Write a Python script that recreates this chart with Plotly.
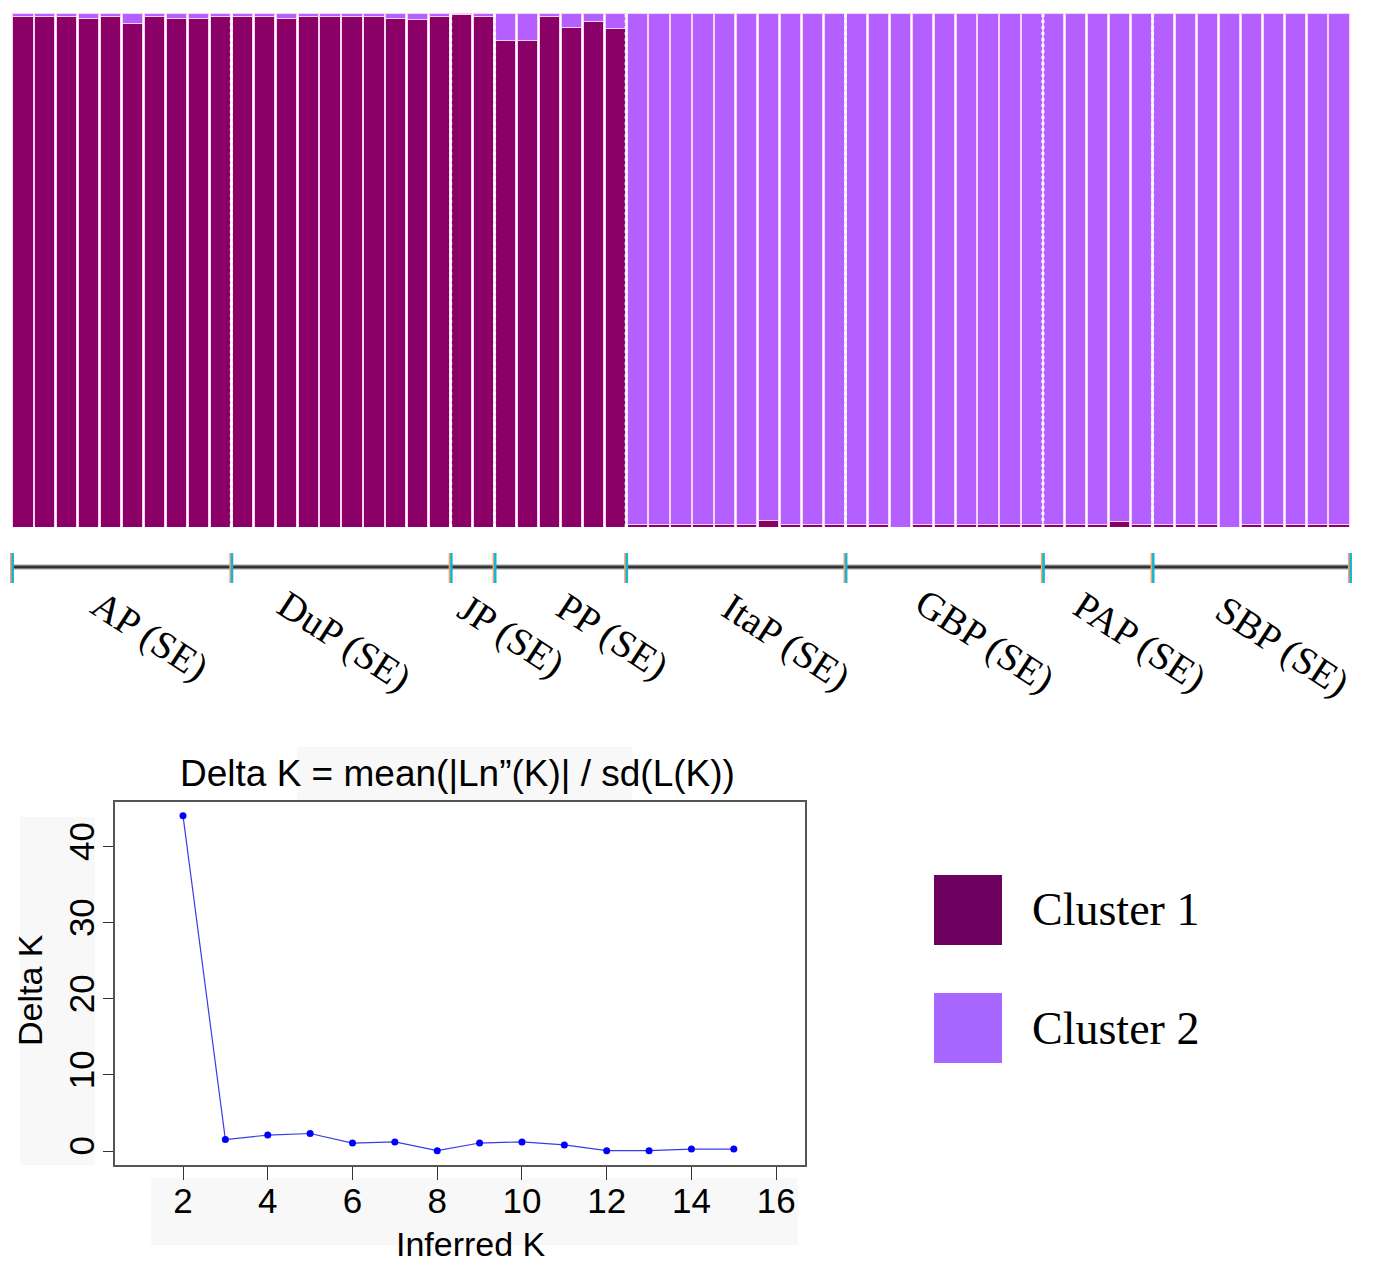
import plotly.graph_objects as go

# ---------------- data ----------------
pop_names = ["AP (SE)", "DuP (SE)", "JP (SE)", "PP (SE)", "ItaP (SE)", "GBP (SE)", "PAP (SE)", "SBP (SE)"]
pop_sizes = [10, 10, 2, 6, 10, 9, 5, 9]

# proportion of membership in Cluster 1 for each individual (Cluster 2 = 1 - Cluster 1)
cluster1_AP = [0.993, 0.993, 0.993, 0.989, 0.993, 0.980, 0.993, 0.989, 0.989, 0.993]
cluster1_DuP = [0.993, 0.993, 0.989, 0.993, 0.993, 0.993, 0.993, 0.989, 0.987, 0.993]
cluster1_JP = [0.997, 0.993]
cluster1_PP = [0.947, 0.947, 0.993, 0.972, 0.983, 0.969]
cluster1_ItaP = [0.005, 0.005, 0.005, 0.005, 0.005, 0.005, 0.012, 0.005, 0.005, 0.005]
cluster1_GBP = [0.005, 0.005, 0.0, 0.005, 0.005, 0.005, 0.005, 0.005, 0.005]
cluster1_PAP = [0.005, 0.005, 0.005, 0.010, 0.005]
cluster1_SBP = [0.005, 0.005, 0.005, 0.0, 0.005, 0.005, 0.005, 0.005, 0.005]

cluster1 = (cluster1_AP + cluster1_DuP + cluster1_JP + cluster1_PP +
            cluster1_ItaP + cluster1_GBP + cluster1_PAP + cluster1_SBP)
cluster2 = [1 - v for v in cluster1]
individuals = list(range(len(cluster1)))

# Evanno Delta K
inferred_k = [2, 3, 4, 5, 6, 7, 8, 9, 10, 11, 12, 13, 14, 15]
delta_k = [44.1, 1.5, 2.1, 2.3, 1.05, 1.2, 0.05, 1.05, 1.2, 0.8, 0.05, 0.05, 0.25, 0.25]

legend_labels = ["Cluster 1", "Cluster 2"]

# ---------------- styling helpers ----------------
W, H = 1373, 1264
def px(x):
    return x / W
def py(y):
    return 1 - y / H

BAR_L, BAR_R = 12, 1350
n_ind = len(cluster1)
def bar_px(b):
    # pixel x of a boundary given in bar-index units
    return BAR_L + (b + 0.5) * (BAR_R - BAR_L) / n_ind

C1 = "#8b0066"
C2 = "#b45fff"
SERIF = "Liberation Serif, Times New Roman, serif"
SANS = "Liberation Sans, Arial, sans-serif"

fig = go.Figure()

fig.add_trace(go.Bar(x=individuals, y=cluster1, marker=dict(color=C1, line=dict(color="#f4d2f0", width=1)),
                     xaxis="x", yaxis="y", showlegend=False, hoverinfo="skip"))
fig.add_trace(go.Bar(x=individuals, y=cluster2, marker=dict(color=C2, line=dict(color="#f4d2f0", width=1)),
                     xaxis="x", yaxis="y", showlegend=False, hoverinfo="skip"))

fig.add_trace(go.Scatter(x=inferred_k, y=delta_k, mode="lines+markers",
                         line=dict(color="#3b3be6", width=1.2),
                         marker=dict(color="#0000ff", size=7),
                         xaxis="x2", yaxis="y2", showlegend=False, hoverinfo="skip"))

shapes = []
annotations = []

# faint grey backgrounds behind the R axis labels
for (x0, y0, x1, y1) in [(20, 817, 95, 1165), (151, 1178, 798, 1245), (297, 747, 632, 800)]:
    shapes.append(dict(type="rect", xref="paper", yref="paper", x0=px(x0), x1=px(x1), y0=py(y1), y1=py(y0),
                       fillcolor="#f8f8f8", line=dict(width=0), layer="below"))

# population boundaries
bounds = [-0.5]
for s in pop_sizes:
    bounds.append(bounds[-1] + s)

# white dotted separators across the bar region
for b in bounds[1:-1]:
    shapes.append(dict(type="line", xref="x", yref="paper", x0=b, x1=b, y0=py(527), y1=py(13),
                       line=dict(color="white", width=3, dash="dot")))

# population axis line
for col, wdt in [("#9a9a9a", 5), ("#333333", 2.5)]:
    shapes.append(dict(type="line", xref="paper", yref="paper", x0=px(bar_px(bounds[0])),
                       x1=px(bar_px(bounds[-1])), y0=py(567), y1=py(567), line=dict(color=col, width=wdt)))
for b in bounds:
    xb = bar_px(b)
    shapes.append(dict(type="line", xref="paper", yref="paper", x0=px(xb - 1), x1=px(xb - 1), y0=py(583),
                       y1=py(553), line=dict(color="#f4a460", width=2)))
    shapes.append(dict(type="line", xref="paper", yref="paper", x0=px(xb + 0.7), x1=px(xb + 0.7), y0=py(583),
                       y1=py(553), line=dict(color="#14b4d8", width=2.5)))

# population labels
label_centers = [(150, 636), (344, 641), (511, 636), (612, 636), (786, 642), (985, 641), (1140, 642), (1282, 646)]
for name, (cx, cy) in zip(pop_names, label_centers):
    annotations.append(dict(text=name, x=px(cx), y=py(cy), xref="paper", yref="paper", showarrow=False,
                            xanchor="center", yanchor="middle", textangle=33,
                            font=dict(family=SERIF, size=39, color="black")))

# legend
legend_colors = ["#6e0060", "#a766ff"]
for lab, col, (y0, y1) in zip(legend_labels, legend_colors, [(875, 945), (993, 1063)]):
    shapes.append(dict(type="rect", xref="paper", yref="paper", x0=px(934), x1=px(1002), y0=py(y1), y1=py(y0),
                       fillcolor=col, line=dict(width=0)))
    annotations.append(dict(text=lab, x=px(1030), y=py((y0 + y1) / 2), xref="paper", yref="paper",
                            showarrow=False, xanchor="left", yanchor="middle",
                            font=dict(family=SERIF, size=46, color="black")))

# Delta K titles
annotations.append(dict(text="Delta K = mean(|Ln\u201d(K)| / sd(L(K))", x=px(457), y=py(773), xref="paper",
                        yref="paper", showarrow=False, xanchor="center", yanchor="middle",
                        font=dict(family=SANS, size=37, color="black")))
annotations.append(dict(text="Inferred K", x=px(471), y=py(1244), xref="paper", yref="paper", showarrow=False,
                        xanchor="center", yanchor="middle", font=dict(family=SANS, size=34, color="black")))
annotations.append(dict(text="Delta K", x=px(30), y=py(990), xref="paper", yref="paper", showarrow=False,
                        xanchor="center", yanchor="middle", textangle=-90,
                        font=dict(family=SANS, size=34, color="black")))

fig.update_layout(
    width=W, height=H,
    margin=dict(l=0, r=0, t=0, b=0),
    paper_bgcolor="white", plot_bgcolor="white",
    barmode="stack", bargap=0.08,
    xaxis=dict(domain=[px(BAR_L), px(BAR_R)], range=[-0.5, n_ind - 0.5], visible=False, fixedrange=True),
    yaxis=dict(domain=[py(527), py(13)], range=[0, 1], visible=False, fixedrange=True),
    xaxis2=dict(domain=[px(115), px(805)], range=[0.395, 16.68], anchor="y2",
                tickvals=[2, 4, 6, 8, 10, 12, 14, 16], ticks="outside", ticklen=13, tickwidth=1.2,
                tickcolor="#333", showline=True, mirror=True, linecolor="#555", linewidth=1.5,
                ticklabelstandoff=-9,
                showgrid=False, zeroline=False, tickfont=dict(family=SANS, size=35, color="black")),
    yaxis2=dict(domain=[py(1165), py(802)], range=[-1.84, 45.9], anchor="x2",
                tickvals=[0, 10, 20, 30, 40], tickangle=-90, ticks="outside", ticklen=10, tickwidth=1.2,
                tickcolor="#333", showline=True, mirror=True, linecolor="#555", linewidth=1.5,
                ticklabelstandoff=-5,
                showgrid=False, zeroline=False, tickfont=dict(family=SANS, size=35, color="black")),
    shapes=shapes,
    annotations=annotations,
)

fig.write_html("out.html", config={"displayModeBar": False},
               post_script="document.body.style.margin='0';document.body.style.overflow='hidden';")
